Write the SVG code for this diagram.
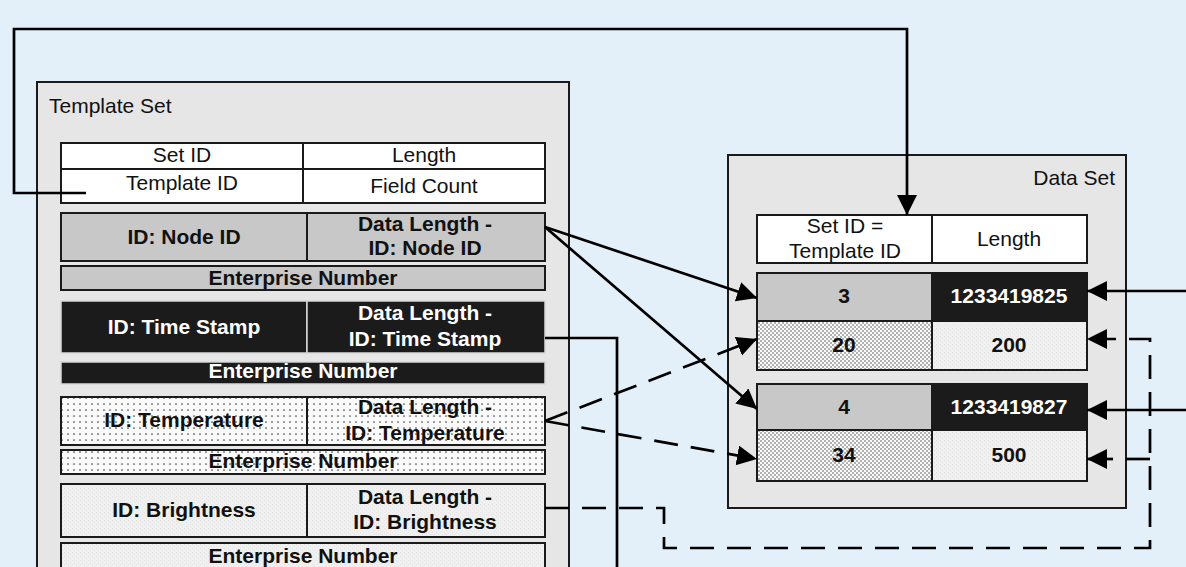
<svg xmlns="http://www.w3.org/2000/svg" width="1186" height="567" viewBox="0 0 1186 567">
<defs>
<style>
text{font-family:"Liberation Sans",Arial,sans-serif;font-size:21px;text-anchor:middle;fill:#111}
.b{font-weight:bold}
.w{fill:#fff}
.lbl{text-anchor:start}
.set{fill:#e6e6e6;stroke:#1a1a1a;stroke-width:2}
.cw{fill:#fff;stroke:#1a1a1a;stroke-width:2}
.cg{fill:#c8c8c8;stroke:#1a1a1a;stroke-width:2}
.ck{fill:#1b1b1b;stroke:#d8d8d8;stroke-width:1.5}
.cd{fill:url(#dots);stroke:#1a1a1a;stroke-width:2}
.cd2{fill:url(#dots2);stroke:#1a1a1a;stroke-width:2}
.cl{fill:url(#light);stroke:#1a1a1a;stroke-width:2}
.con{fill:none;stroke:#000;stroke-width:2.7}
.dash{stroke-dasharray:24 13}
</style>
<pattern id="dots" width="6" height="6" patternUnits="userSpaceOnUse">
<rect width="6" height="6" fill="#fafafa"/>
<circle cx="2" cy="2" r="0.85" fill="#444"/>
</pattern>
<pattern id="dots2" width="4" height="4" patternUnits="userSpaceOnUse">
<rect width="4" height="4" fill="#fafafa"/>
<circle cx="1" cy="1" r="0.75" fill="#444"/>
<circle cx="3" cy="3" r="0.75" fill="#444"/>
</pattern>
<pattern id="light" width="4" height="4" patternUnits="userSpaceOnUse">
<rect width="4" height="4" fill="#f0f0f0"/>
<rect x="0" y="0" width="1" height="1" fill="#e4e4e4"/>
<rect x="2" y="2" width="1" height="1" fill="#e4e4e4"/>
</pattern>
<marker id="arr" markerUnits="userSpaceOnUse" markerWidth="22" markerHeight="22" refX="20" refY="10" orient="auto" viewBox="0 0 22 22">
<path d="M0,0 L20,10 L0,20 Z" fill="#000"/>
</marker>
</defs>
<rect width="1186" height="567" fill="#e3f0fa"/>

<g id="template-set">
<rect class="set" x="37" y="82" width="532" height="500"/>
<text class="lbl" x="49" y="113">Template Set</text>
</g>

<g id="template-header">
<rect class="cw" x="61" y="143" width="242" height="26"/>
<rect class="cw" x="303" y="143" width="242" height="26"/>
<rect class="cw" x="61" y="169" width="242" height="34"/>
<rect class="cw" x="303" y="169" width="242" height="34"/>
<text x="182" y="162">Set ID</text>
<text x="424" y="162">Length</text>
<text x="182" y="190">Template ID</text>
<text x="424" y="193">Field Count</text>
</g>

<g id="field-node-id">
<rect class="cg" x="61" y="213" width="246" height="48"/>
<rect class="cg" x="307" y="213" width="238" height="48"/>
<text class="b" x="184" y="244">ID: Node ID</text>
<text class="b" x="425" y="231">Data Length -</text>
<text class="b" x="425" y="255">ID: Node ID</text>
<rect class="cg" x="61" y="266" width="484" height="24"/>
<text class="b" x="303" y="285">Enterprise Number</text>
</g>

<g id="field-time-stamp">
<rect class="ck" x="61" y="301" width="246" height="52"/>
<rect class="ck" x="307" y="301" width="238" height="52"/>
<text class="b w" x="184" y="334">ID: Time Stamp</text>
<text class="b w" x="425" y="320">Data Length -</text>
<text class="b w" x="425" y="346">ID: Time Stamp</text>
<rect class="ck" x="61" y="362" width="484" height="22"/>
<text class="b w" x="303" y="378">Enterprise Number</text>
</g>

<g id="field-temperature">
<rect class="cd" x="61" y="397" width="246" height="48"/>
<rect class="cd" x="307" y="397" width="238" height="48"/>
<text class="b" x="184" y="427">ID: Temperature</text>
<text class="b" x="425" y="414">Data Length -</text>
<text class="b" x="425" y="440">ID: Temperature</text>
<rect class="cd" x="61" y="450" width="484" height="24"/>
<text class="b" x="303" y="468">Enterprise Number</text>
</g>

<g id="field-brightness">
<rect class="cl" x="61" y="484" width="246" height="53"/>
<rect class="cl" x="307" y="484" width="238" height="53"/>
<text class="b" x="184" y="517">ID: Brightness</text>
<text class="b" x="425" y="504">Data Length -</text>
<text class="b" x="425" y="529">ID: Brightness</text>
<rect class="cl" x="61" y="543" width="484" height="34"/>
<text class="b" x="303" y="563">Enterprise Number</text>
</g>

<g id="data-set">
<rect class="set" x="728" y="155" width="398" height="353"/>
<text x="1115" y="185" style="text-anchor:end">Data Set</text>
</g>

<g id="data-header">
<rect class="cw" x="757" y="215" width="175" height="48"/>
<rect class="cw" x="932" y="215" width="155" height="48"/>
<text x="845" y="233">Set ID =</text>
<text x="845" y="258">Template ID</text>
<text x="1009" y="246">Length</text>
</g>

<g id="data-record-1">
<rect class="cg" x="757" y="273" width="175" height="48"/>
<rect class="ck" x="932" y="273" width="155" height="48" style="stroke:#1a1a1a;stroke-width:2"/>
<text class="b" x="844" y="303">3</text>
<text class="b w" x="1009" y="303">1233419825</text>
<rect class="cd2" x="757" y="321" width="175" height="49"/>
<rect class="cl" x="932" y="321" width="155" height="49"/>
<text class="b" x="844" y="352">20</text>
<text class="b" x="1009" y="352">200</text>
</g>

<g id="data-record-2">
<rect class="cg" x="757" y="384" width="175" height="46"/>
<rect class="ck" x="932" y="384" width="155" height="46" style="stroke:#1a1a1a;stroke-width:2"/>
<text class="b" x="844" y="414">4</text>
<text class="b w" x="1009" y="414">1233419827</text>
<rect class="cd2" x="757" y="430" width="175" height="51"/>
<rect class="cl" x="932" y="430" width="155" height="51"/>
<text class="b" x="844" y="462">34</text>
<text class="b" x="1009" y="462">500</text>
</g>

<g id="connectors">
<path class="con" d="M86,193 H14 V29 H907 V215" marker-end="url(#arr)"/>
<path class="con" d="M545,227 L757,298" marker-end="url(#arr)"/>
<path class="con" d="M545,227 L757,409" marker-end="url(#arr)"/>
<path class="con dash" d="M545,421 L757,339" marker-end="url(#arr)"/>
<path class="con dash" d="M545,421 L757,459" marker-end="url(#arr)"/>
<path class="con" d="M545,338 H617 V567"/>
<path class="con dash" d="M545,508 H664 V548 H1150 V339 H1087" marker-end="url(#arr)"/>
<path class="con" d="M1126,459 H1150"/>
<path class="con" d="M1113,459 H1087" marker-end="url(#arr)"/>
<path class="con" d="M1186,291 H1087" marker-end="url(#arr)"/>
<path class="con" d="M1186,410 H1087" marker-end="url(#arr)"/>
</g>
</svg>
